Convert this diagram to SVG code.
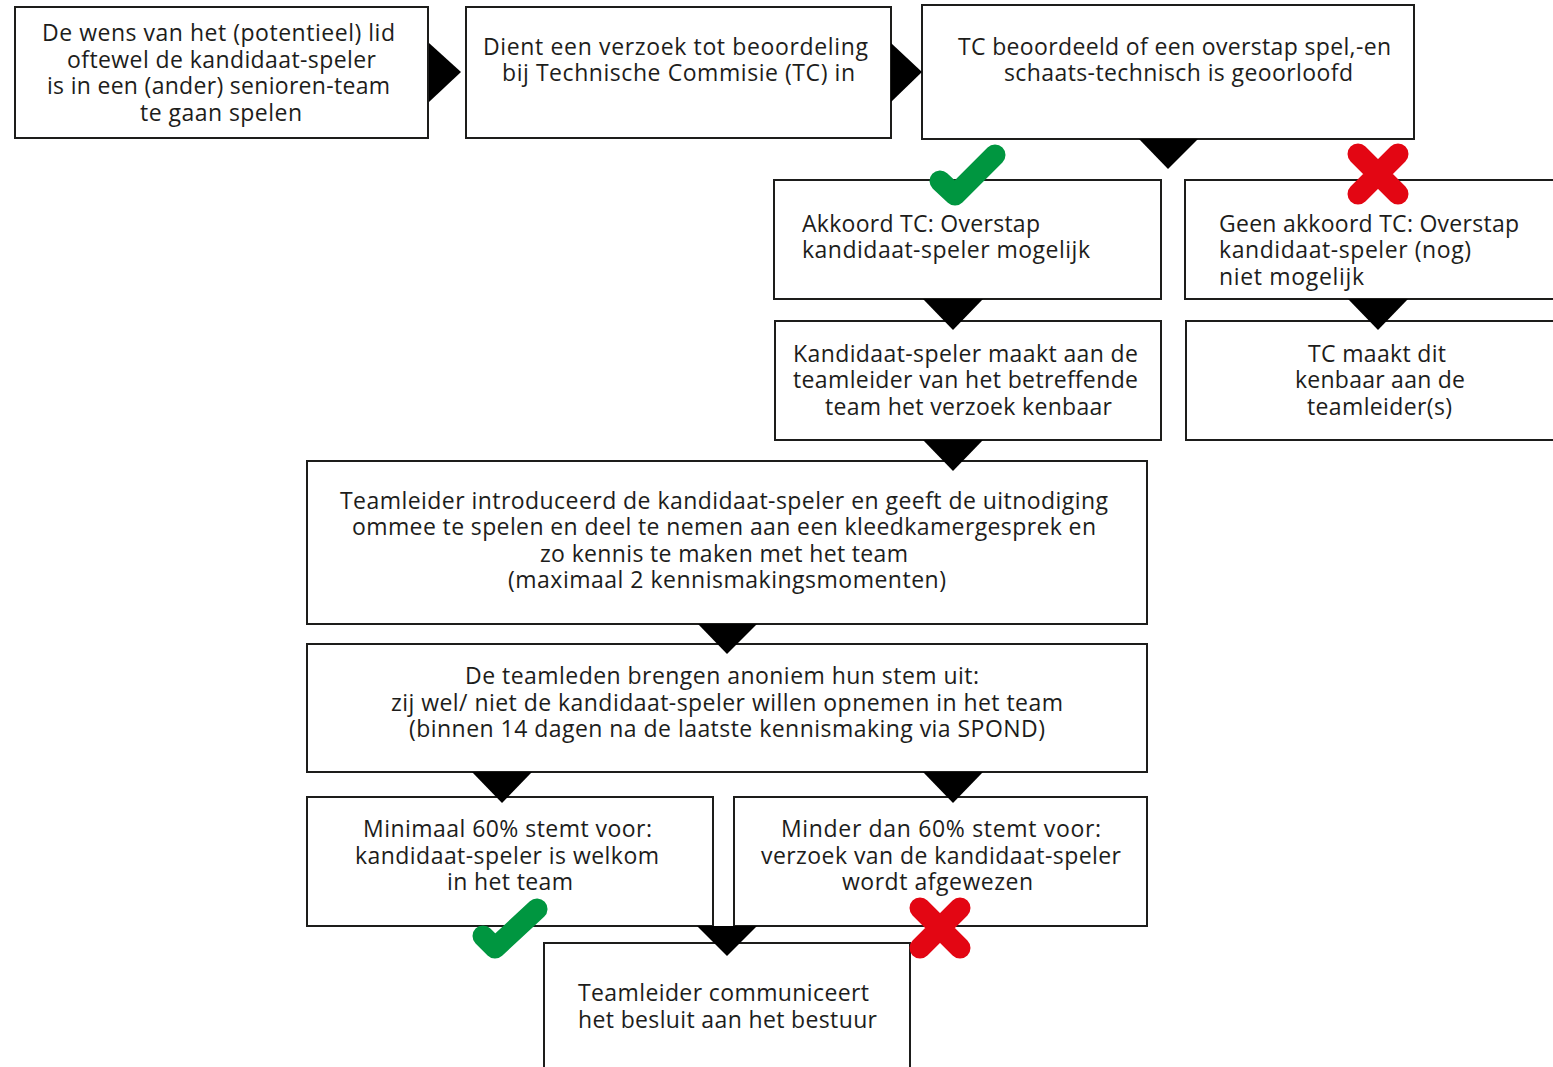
<svg xmlns="http://www.w3.org/2000/svg" width="1553" height="1067" viewBox="0 0 1553 1067">
<style>
.box{fill:#fff;stroke:#1d1d1b;stroke-width:2}
.t{font-family:"Open Sans","Noto Sans",sans-serif;font-size:23px;fill:#1d1d1b}
.arr{fill:#000}
.ok{fill:none;stroke:#009640;stroke-width:21;stroke-linecap:round;stroke-linejoin:round}
.no{fill:none;stroke:#e30613;stroke-width:21;stroke-linecap:round}
</style>
<rect width="1553" height="1067" fill="#fff"/>
<g id="n1"><rect class="box" x="15" y="7" width="413" height="131"/>
<text class="t" lengthAdjust="spacingAndGlyphs"><tspan x="42" y="41" textLength="353">De wens van het (potentieel) lid</tspan><tspan x="67" y="68" textLength="309">oftewel de kandidaat-speler</tspan><tspan x="47" y="94" textLength="343">is in een (ander) senioren-team</tspan><tspan x="140" y="121" textLength="162">te gaan spelen</tspan></text></g>
<g id="n2"><rect class="box" x="466" y="7" width="425" height="131"/>
<text class="t" lengthAdjust="spacingAndGlyphs"><tspan x="483" y="55" textLength="385">Dient een verzoek tot  beoordeling</tspan><tspan x="502" y="81" textLength="353">bij Technische  Commisie (TC) in</tspan></text></g>
<g id="n3"><rect class="box" x="922" y="5" width="492" height="134"/>
<text class="t" lengthAdjust="spacingAndGlyphs"><tspan x="958" y="55" textLength="433">TC beoordeeld of een overstap spel,-en</tspan><tspan x="1004" y="81" textLength="349">schaats-technisch is geoorloofd</tspan></text></g>
<g id="n4"><rect class="box" x="774" y="180" width="387" height="119"/>
<text class="t" lengthAdjust="spacingAndGlyphs"><tspan x="802" y="232" textLength="238">Akkoord TC: Overstap</tspan><tspan x="802" y="258" textLength="288">kandidaat-speler mogelijk</tspan></text></g>
<g id="n5"><rect class="box" x="1185" y="180" width="380" height="119"/>
<text class="t" lengthAdjust="spacingAndGlyphs"><tspan x="1219" y="232" textLength="300">Geen akkoord TC: Overstap</tspan><tspan x="1219" y="258" textLength="252">kandidaat-speler (nog)</tspan><tspan x="1219" y="285" textLength="145">niet mogelijk</tspan></text></g>
<g id="n6"><rect class="box" x="775" y="321" width="386" height="119"/>
<text class="t" lengthAdjust="spacingAndGlyphs"><tspan x="793" y="362" textLength="345">Kandidaat-speler maakt aan de</tspan><tspan x="793" y="388" textLength="345">teamleider van het betreffende</tspan><tspan x="825" y="415" textLength="287">team het verzoek kenbaar</tspan></text></g>
<g id="n7"><rect class="box" x="1186" y="321" width="380" height="119"/>
<text class="t" lengthAdjust="spacingAndGlyphs"><tspan x="1308" y="362" textLength="138">TC maakt dit</tspan><tspan x="1295" y="388" textLength="170">kenbaar aan de</tspan><tspan x="1307" y="415" textLength="145">teamleider(s)</tspan></text></g>
<g id="n8"><rect class="box" x="307" y="461" width="840" height="163"/>
<text class="t" lengthAdjust="spacingAndGlyphs"><tspan x="340" y="509" textLength="768">Teamleider introduceerd de kandidaat-speler en geeft de uitnodiging</tspan><tspan x="352" y="535" textLength="744">ommee te spelen en deel te nemen aan een kleedkamergesprek en</tspan><tspan x="540" y="562" textLength="368">zo kennis te maken met het team</tspan><tspan x="508" y="588" textLength="438">(maximaal 2 kennismakingsmomenten)</tspan></text></g>
<g id="n9"><rect class="box" x="307" y="644" width="840" height="128"/>
<text class="t" lengthAdjust="spacingAndGlyphs"><tspan x="465" y="684" textLength="514">De teamleden brengen anoniem hun stem uit:</tspan><tspan x="391" y="711" textLength="672">zij wel/ niet de kandidaat-speler willen opnemen in het team</tspan><tspan x="409" y="737" textLength="636">(binnen 14 dagen na de laatste kennismaking via SPOND)</tspan></text></g>
<g id="n10"><rect class="box" x="307" y="797" width="406" height="129"/>
<text class="t" lengthAdjust="spacingAndGlyphs"><tspan x="363" y="837" textLength="289">Minimaal 60% stemt voor:</tspan><tspan x="355" y="864" textLength="304">kandidaat-speler is welkom</tspan><tspan x="447" y="890" textLength="126">in het team</tspan></text></g>
<g id="n11"><rect class="box" x="734" y="797" width="413" height="129"/>
<text class="t" lengthAdjust="spacingAndGlyphs"><tspan x="781" y="837" textLength="320">Minder dan 60%  stemt voor:</tspan><tspan x="761" y="864" textLength="360">verzoek van de kandidaat-speler</tspan><tspan x="842" y="890" textLength="191">wordt afgewezen</tspan></text></g>
<g id="n12"><rect class="box" x="544" y="943" width="366" height="140"/>
<text class="t" lengthAdjust="spacingAndGlyphs"><tspan x="578" y="1001" textLength="291">Teamleider communiceert</tspan><tspan x="578" y="1028" textLength="299">het besluit aan het bestuur</tspan></text></g>
<g id="connectors">
<polygon class="arr" points="429,43 461,72 429,102"/>
<polygon class="arr" points="891,43 922,72 891,102"/>
<polygon class="arr" points="1139,139 1198,139 1168,169"/>
<polygon class="arr" points="923,299 983,299 953,330"/>
<polygon class="arr" points="1348,299 1408,299 1378,330"/>
<polygon class="arr" points="923,440 983,440 953,471"/>
<polygon class="arr" points="698,624 757,624 727,654"/>
<polygon class="arr" points="472,772 532,772 502,803"/>
<polygon class="arr" points="923,772 983,772 953,803"/>
<polygon class="arr" points="697,926 757,926 727,956"/>
</g>
<g id="marks">
<polyline class="ok" points="940,181 955,195 995,155"/>
<path class="no" d="M1358,154 L1398,194 M1398,154 L1358,194"/>
<polyline class="ok" points="483,936 495,948 537,909"/>
<path class="no" d="M920,908 L960,948 M960,908 L920,948"/>
</g>
</svg>
